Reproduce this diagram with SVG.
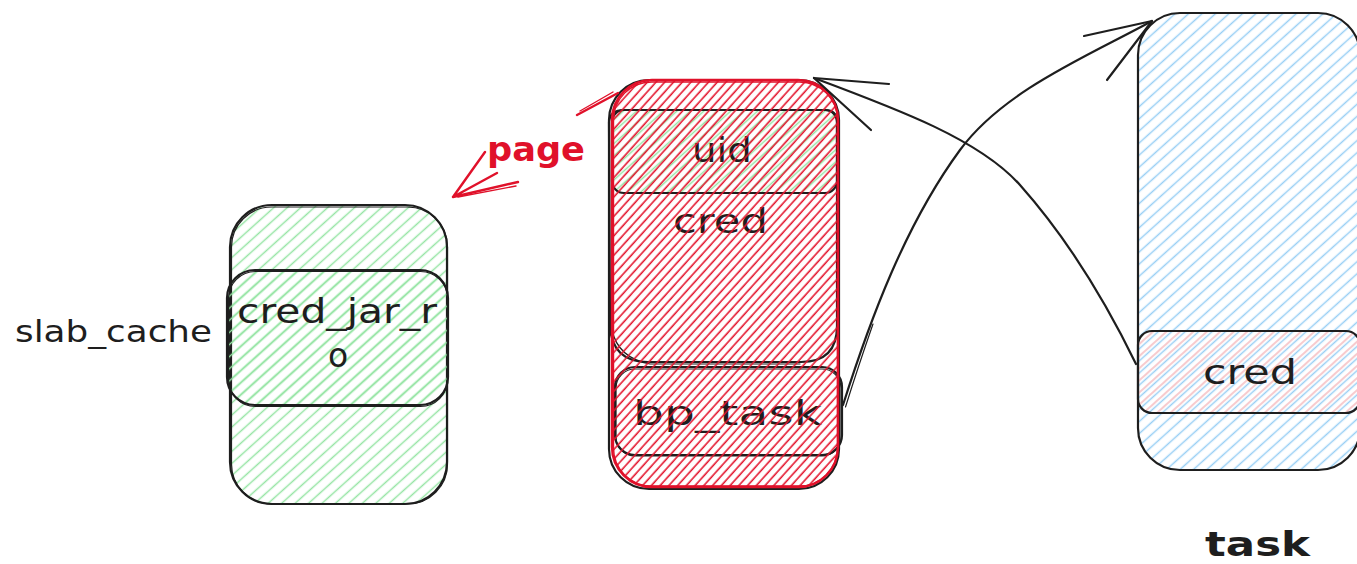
<svg xmlns="http://www.w3.org/2000/svg" width="1357" height="564" viewBox="0 0 1357 564">
<style>
  .ol { fill: none; stroke: #1e1e1e; stroke-width: 2.2; stroke-linejoin: round; stroke-linecap: round; }
  .ol2 { fill: none; stroke: #1e1e1e; stroke-width: 1.2; stroke-linecap: round; }
  .red { fill: none; stroke: #e0112a; stroke-width: 2.4; stroke-linejoin: round; stroke-linecap: round; }
  .red2 { fill: none; stroke: #e0112a; stroke-width: 1.4; stroke-linecap: round; }
  .t { font-family: "DejaVu Sans", "Liberation Sans", sans-serif; fill: #1e1e1e; }
  .conn { fill: none; stroke: #1e1e1e; stroke-width: 2.2; stroke-linecap: round; stroke-linejoin: round; }
</style>
<defs>
  <pattern id="hgreen" patternUnits="userSpaceOnUse" width="9" height="9" patternTransform="rotate(-42)">
    <line x1="0" y1="4.5" x2="9" y2="4.5" stroke="#96e4a4" stroke-width="1.5"/>
  </pattern>
  <pattern id="hblue" patternUnits="userSpaceOnUse" width="9" height="9" patternTransform="rotate(-42)">
    <line x1="0" y1="4.5" x2="9" y2="4.5" stroke="#98cff4" stroke-width="1.5"/>
  </pattern>
  <pattern id="hpink" patternUnits="userSpaceOnUse" width="9" height="9" patternTransform="rotate(-42)">
    <line x1="0" y1="1" x2="9" y2="1" stroke="#f5b9be" stroke-width="1.5"/>
  </pattern>
  <pattern id="hred" patternUnits="userSpaceOnUse" width="6.5" height="6.5" patternTransform="rotate(-48)">
    <line x1="0" y1="3" x2="6.5" y2="3" stroke="#e3152d" stroke-width="1.6"/>
  </pattern>
</defs>

<g id="slab_cache_label">
  <text class="t" x="15" y="342" font-size="31" textLength="197" lengthAdjust="spacingAndGlyphs">slab_cache</text>
</g>

<g id="slab_box">
  <rect x="230" y="205" width="217" height="299" rx="42" fill="url(#hgreen)"/>
  <rect class="ol" x="230" y="205" width="217" height="299" rx="42"/>
  <rect class="ol2" x="231.5" y="207" width="216" height="297" rx="40"/>
</g>

<g id="cred_jar_ro">
  <rect x="227" y="270" width="221" height="135" rx="28" fill="url(#hgreen)"/>
  <rect class="ol" x="227" y="270" width="221" height="135" rx="28"/>
  <rect class="ol2" x="228.5" y="271.5" width="219" height="135" rx="27"/>
  <text class="t" x="237" y="323" font-size="33" textLength="200" lengthAdjust="spacingAndGlyphs">cred_jar_r</text>
  <text class="t" x="338" y="367" font-size="33" text-anchor="middle">o</text>
</g>

<g id="page_outline">
  <rect class="ol" x="609" y="80" width="230" height="409" rx="40"/>
</g>

<g id="cred_box">
  <path class="ol" d="M 624 110 L 825 110 Q 837 110 837 122 L 837 326 Q 837 362 801 362 L 648 362 Q 612 362 610 326 L 609 122 Q 610 110 624 110 Z"/>
  <path class="ol2" d="M 612 330 Q 618 358 650 364 L 800 364"/>
  <text class="t" x="673" y="233" font-size="34" textLength="95" lengthAdjust="spacingAndGlyphs">cred</text>
</g>

<g id="uid">
  <rect x="612" y="110" width="225" height="83" rx="12" fill="url(#hgreen)"/>
  <rect class="ol" x="612" y="110" width="225" height="83" rx="12"/>
  <text class="t" x="692" y="162" font-size="34" textLength="60" lengthAdjust="spacingAndGlyphs">uid</text>
</g>

<g id="bp_task">
  <rect class="ol" x="615" y="367" width="227" height="88" rx="20"/>
  <rect class="ol2" x="616" y="369" width="225" height="87" rx="19"/>
  <text class="t" x="633" y="425" font-size="34" textLength="189" lengthAdjust="spacingAndGlyphs">bp_task</text>
</g>

<g id="page">
  <rect x="612" y="80" width="226" height="407" rx="40" fill="url(#hred)"/>
  <rect class="red" x="612" y="80" width="226" height="407" rx="40"/>
  <rect class="red2" x="613.5" y="82" width="224" height="404" rx="38"/>
</g>

<g id="task">
  <rect x="1138" y="13" width="222" height="457" rx="42" fill="url(#hblue)"/>
  <rect class="ol" x="1138" y="13" width="222" height="457" rx="42"/>
  <text class="t" x="1205" y="556" font-size="34" font-weight="bold" textLength="105" lengthAdjust="spacingAndGlyphs">task</text>
</g>

<g id="task_cred">
  <rect x="1138" y="331" width="222" height="82" rx="14" fill="url(#hpink)"/>
  <rect class="ol" x="1138" y="331" width="222" height="82" rx="14"/>
  <text class="t" x="1203" y="384" font-size="34" textLength="94" lengthAdjust="spacingAndGlyphs">cred</text>
</g>

<g id="connectors">
  <path class="conn" d="M 843 405 C 870 320 905 225 960 150 C 1004 90 1090 55 1152 21"/>
  <path class="ol2" d="M 845.5 407 Q 858 367 873 324"/>
  <path class="conn" d="M 1152 21 L 1084 36 M 1152 21 L 1107 80"/>
  <path class="conn" d="M 814 78 C 900 110 980 140 1020 185 C 1060 230 1100 290 1136 364"/>
  <path class="conn" d="M 814 78 L 889 84 M 814 78 L 871 130"/>
  <path class="red" d="M 618 93 L 577 115 M 497 173 L 453 197 M 453 197 L 485 152 M 453 197 L 518 182"/>
  <path class="red2" d="M 613 92 L 580 111 M 458 197 L 516 186"/>
  <text x="487" y="161" font-family="DejaVu Sans, Liberation Sans, sans-serif" font-size="34" font-weight="bold" fill="#e0112a" textLength="98" lengthAdjust="spacingAndGlyphs">page</text>
</g>
</svg>
